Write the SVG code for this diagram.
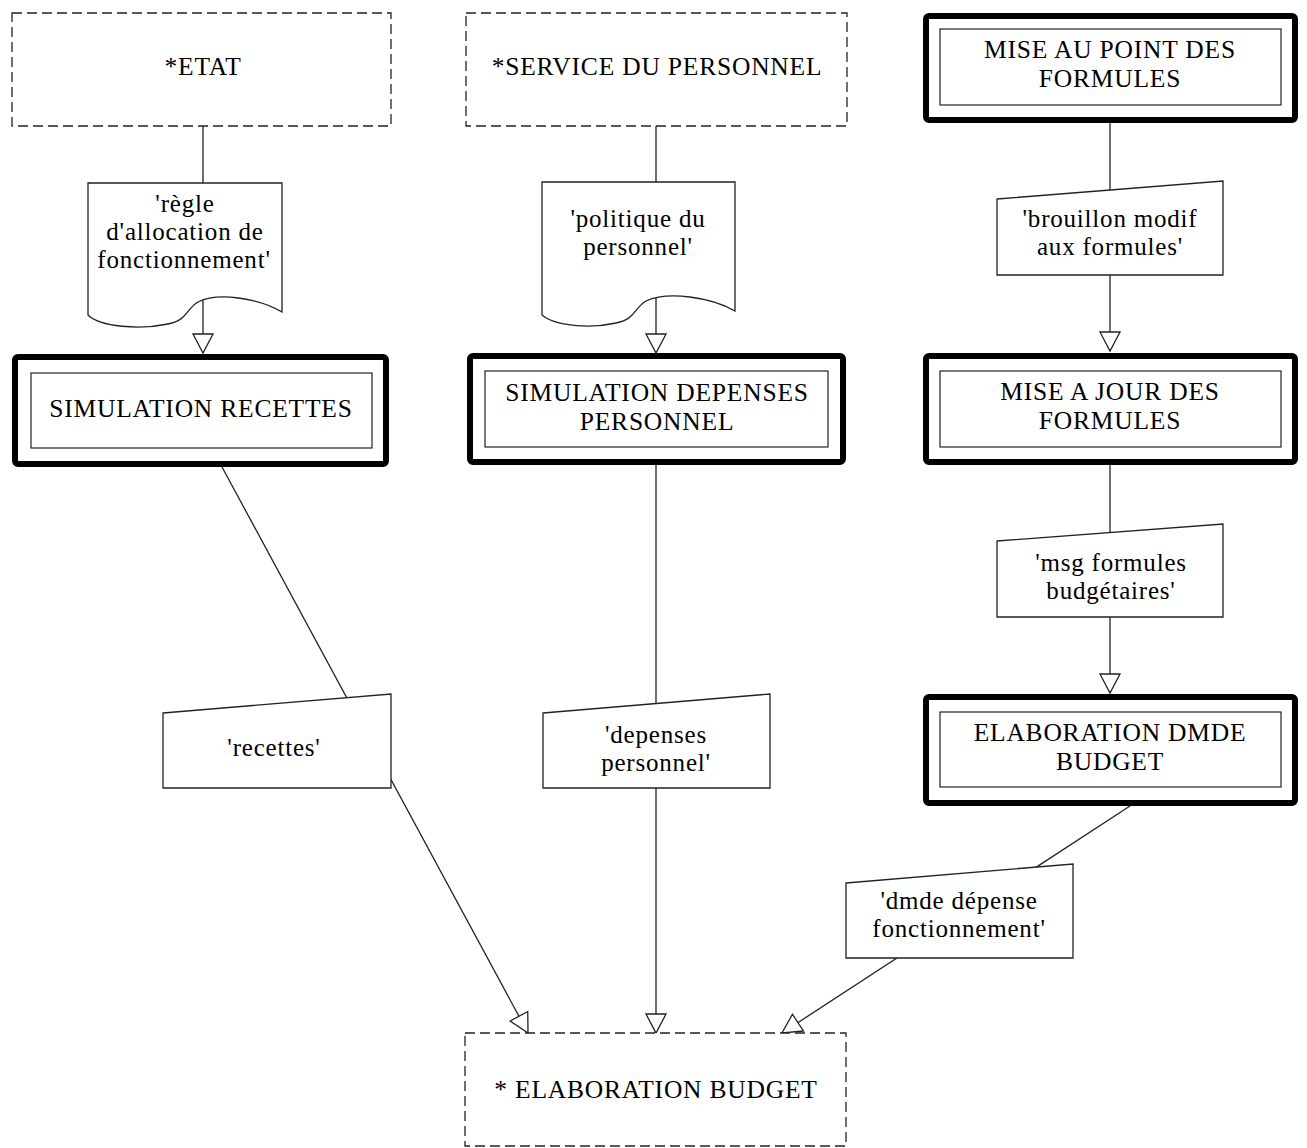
<svg xmlns="http://www.w3.org/2000/svg" width="1307" height="1148" viewBox="0 0 1307 1148">
<style>
  .bg { fill: #ffffff; }
  .ext { fill: #ffffff; stroke: #222; stroke-width: 1.3; stroke-dasharray: 10 5; }
  .outer { fill: #ffffff; stroke: #000; stroke-width: 6; }
  .inner { fill: none; stroke: #222; stroke-width: 1.2; }
  .flow { fill: #ffffff; stroke: #222; stroke-width: 1.3; }
  .conn { fill: none; stroke: #222; stroke-width: 1.3; }
  .t { font-family: "Liberation Serif", "Times New Roman", serif; font-size: 25.5px; letter-spacing: 0.8px; fill: #000; text-anchor: middle; }
  .l { font-family: "Liberation Serif", "Times New Roman", serif; font-size: 25px; letter-spacing: 0.8px; fill: #000; text-anchor: middle; }
</style>
<defs>
  <marker id="arr" markerUnits="userSpaceOnUse" markerWidth="24" markerHeight="24" viewBox="0 0 24 24" refX="21" refY="12" orient="auto">
    <path d="M2,2 L21,12 L2,22 Z" fill="#ffffff" stroke="#222" stroke-width="1.3"/>
  </marker>
</defs>
<rect class="bg" x="0" y="0" width="1307" height="1148"/>

<g id="connectors">
  <line class="conn" x1="203" y1="126" x2="203" y2="353" marker-end="url(#arr)"/>
  <line class="conn" x1="656" y1="126" x2="656" y2="353" marker-end="url(#arr)"/>
  <line class="conn" x1="1110" y1="123" x2="1110" y2="351" marker-end="url(#arr)"/>
  <line class="conn" x1="1110" y1="465" x2="1110" y2="693" marker-end="url(#arr)"/>
  <line class="conn" x1="222" y1="467" x2="528" y2="1033" marker-end="url(#arr)"/>
  <line class="conn" x1="656" y1="465" x2="656" y2="1033" marker-end="url(#arr)"/>
  <line class="conn" x1="1130" y1="806" x2="782" y2="1033" marker-end="url(#arr)"/>
</g>

<g id="etat">
  <rect class="ext" x="12" y="13" width="379" height="113"/>
  <text class="t" x="203" y="75">*ETAT</text>
</g>

<g id="service-personnel">
  <rect class="ext" x="466" y="13" width="381" height="113"/>
  <text class="t" x="657" y="75">*SERVICE DU PERSONNEL</text>
</g>

<g id="mise-au-point">
  <rect class="outer" x="926" y="16" width="369" height="104" rx="3"/>
  <rect class="inner" x="940" y="29" width="341" height="76"/>
  <text class="t" x="1110" y="58">MISE AU POINT DES<tspan x="1110" dy="28.5">FORMULES</tspan></text>
</g>

<g id="regle-allocation">
  <path class="flow" d="M88,183 H282 V312 C258,298 218,292 198,302 C186,309 188,320 168,324 C140,330 100,327 88,315 Z"/>
  <text class="l" x="185" y="212">'règle<tspan x="185" dy="28">d'allocation de</tspan><tspan x="184" dy="28">fonctionnement'</tspan></text>
</g>

<g id="politique-personnel">
  <path class="flow" d="M542,182 H735 V311 C711,297 668,291 646,301 C634,308 636,319 616,323 C590,329 555,326 542,315 Z"/>
  <text class="l" x="638" y="227">'politique du<tspan x="638" dy="28">personnel'</tspan></text>
</g>

<g id="brouillon-modif">
  <polygon class="flow" points="997,199 1223,181 1223,275 997,275"/>
  <text class="l" x="1110" y="227">'brouillon modif<tspan x="1110" dy="28">aux formules'</tspan></text>
</g>

<g id="simulation-recettes">
  <rect class="outer" x="15" y="357" width="371" height="107" rx="3"/>
  <rect class="inner" x="31" y="373" width="341" height="75"/>
  <text class="t" x="201" y="417">SIMULATION RECETTES</text>
</g>

<g id="simulation-depenses">
  <rect class="outer" x="470" y="356" width="373" height="106" rx="3"/>
  <rect class="inner" x="485" y="371" width="343" height="76"/>
  <text class="t" x="657" y="401">SIMULATION DEPENSES<tspan x="657" dy="28.5">PERSONNEL</tspan></text>
</g>

<g id="mise-a-jour">
  <rect class="outer" x="926" y="356" width="369" height="106" rx="3"/>
  <rect class="inner" x="940" y="371" width="341" height="76"/>
  <text class="t" x="1110" y="400">MISE A JOUR DES<tspan x="1110" dy="28.5">FORMULES</tspan></text>
</g>

<g id="msg-formules">
  <polygon class="flow" points="997,541 1223,524 1223,617 997,617"/>
  <text class="l" x="1111" y="571">'msg formules<tspan x="1111" dy="28">budgétaires'</tspan></text>
</g>

<g id="elaboration-dmde">
  <rect class="outer" x="926" y="697" width="369" height="106" rx="3"/>
  <rect class="inner" x="940" y="712" width="341" height="75"/>
  <text class="t" x="1110" y="741">ELABORATION DMDE<tspan x="1110" dy="28.5">BUDGET</tspan></text>
</g>

<g id="recettes">
  <polygon class="flow" points="163,713 391,694 391,788 163,788"/>
  <text class="l" x="274" y="756">'recettes'</text>
</g>

<g id="depenses-personnel">
  <polygon class="flow" points="543,713 770,694 770,788 543,788"/>
  <text class="l" x="656" y="743">'depenses<tspan x="656" dy="28">personnel'</tspan></text>
</g>

<g id="dmde-depense">
  <polygon class="flow" points="846,883 1073,864 1073,958 846,958"/>
  <text class="l" x="959" y="909">'dmde dépense<tspan x="959" dy="28">fonctionnement'</tspan></text>
</g>

<g id="elaboration-budget">
  <rect class="ext" x="465" y="1033" width="381" height="113"/>
  <text class="t" x="656" y="1098">* ELABORATION BUDGET</text>
</g>
</svg>
